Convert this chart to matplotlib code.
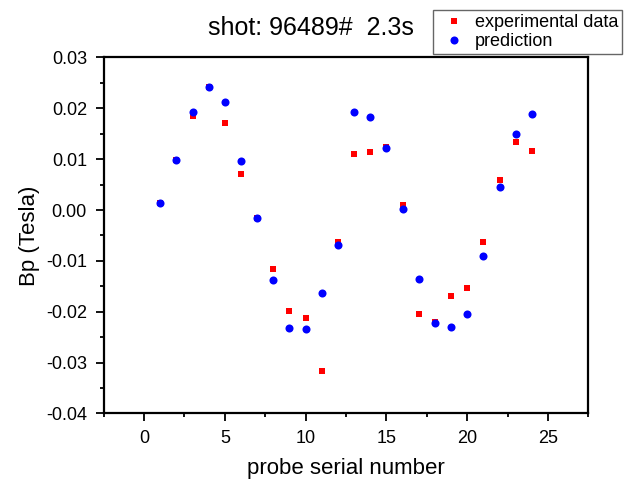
import numpy as np
import matplotlib.pyplot as plt
from matplotlib.ticker import MultipleLocator

plt.rcParams['font.family'] = ['Liberation Sans', 'DejaVu Sans']

# probe serial number
probe = [1, 2, 3, 4, 5, 6, 7, 8, 9, 10, 11, 12,
         13, 14, 15, 16, 17, 18, 19, 20, 21, 22, 23, 24]

# Bp (Tesla)
experimental = [0.0013, 0.0099, 0.0185, 0.0241, 0.0172, 0.0071, -0.0015, -0.0116,
                -0.0198, -0.0213, -0.0317, -0.0062, 0.0110, 0.0114, 0.0124, 0.0010,
                -0.0205, -0.0221, -0.0169, -0.0154, -0.0063, 0.0060, 0.0133, 0.0116]
prediction = [0.0013, 0.0098, 0.0192, 0.0242, 0.0212, 0.0097, -0.0016, -0.0138,
              -0.0232, -0.0234, -0.0163, -0.0068, 0.0192, 0.0182, 0.0122, 0.0002,
              -0.0135, -0.0222, -0.0230, -0.0205, -0.0090, 0.0046, 0.0149, 0.0188]

fig = plt.figure(figsize=(6.32, 4.79), dpi=100)
ax = fig.add_axes([0.164, 0.137, 0.767, 0.743])

ax.plot(probe, experimental, 's', color='#ff0000', markersize=4.6,
        markeredgewidth=0, label='experimental data')
ax.plot(probe, prediction, 'o', color='#0000ff', markersize=5.8,
        markeredgewidth=0, label='prediction')

ax.set_xlim(-2.5, 27.5)
ax.set_ylim(-0.04, 0.03)
ax.xaxis.set_major_locator(MultipleLocator(5))
ax.xaxis.set_minor_locator(MultipleLocator(2.5))
ax.yaxis.set_major_locator(MultipleLocator(0.01))
ax.yaxis.set_minor_locator(MultipleLocator(0.005))
ax.yaxis.set_major_formatter(plt.FormatStrFormatter('%.2f'))

ax.tick_params(which='major', direction='out', length=6, width=1.3, labelsize=13, pad=6)
ax.tick_params(which='minor', direction='out', length=3, width=1.3)
for sp in ax.spines.values():
    sp.set_linewidth(1.6)

ax.set_xlabel('probe serial number', fontsize=16, labelpad=8)
ax.set_ylabel('Bp (Tesla)', fontsize=16, labelpad=4)

fig.text(311 / 632, 1 - 28 / 479, 'shot: 96489#  2.3s', fontsize=18,
         ha='center', va='center')

leg = fig.legend(loc='upper left', bbox_to_anchor=(433 / 632, 1 - 10 / 479),
                 fontsize=13, frameon=True, fancybox=False, handlelength=1.93,
                 handletextpad=0.15, labelspacing=0.12, borderpad=0.22,
                 borderaxespad=0, numpoints=1)
leg.get_frame().set_edgecolor('#404040')
leg.get_frame().set_linewidth(1.0)

fig.savefig('out.png', dpi=100)
